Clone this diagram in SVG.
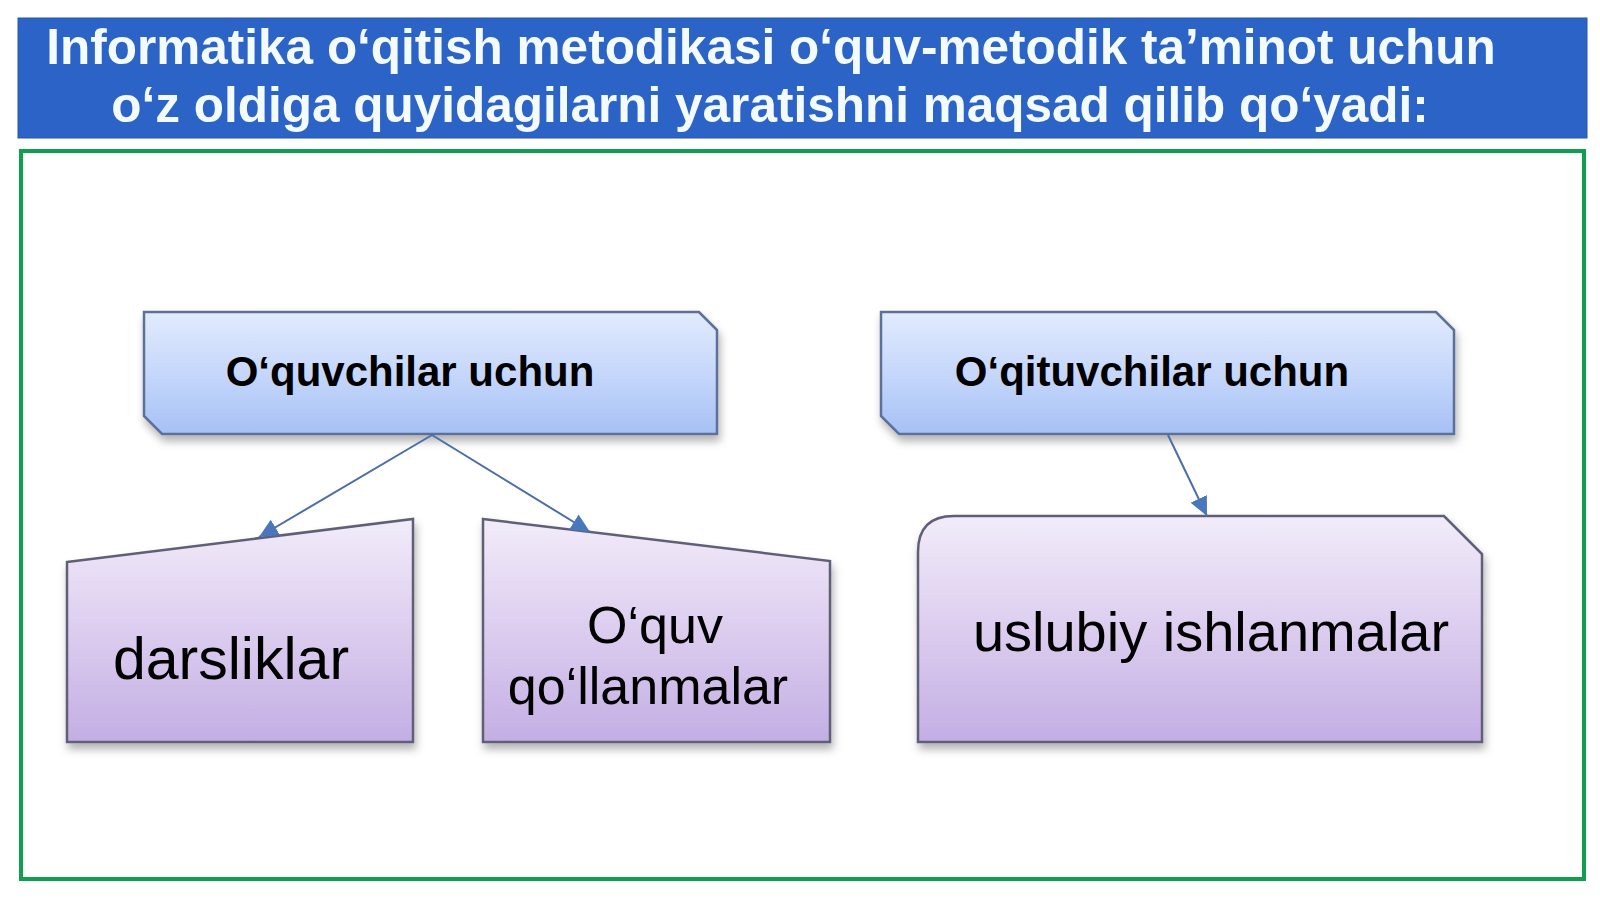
<svg xmlns="http://www.w3.org/2000/svg" width="1600" height="900" viewBox="0 0 1600 900">
<defs>
<style>
.hdr{font-family:"Liberation Sans",Arial,sans-serif;font-weight:bold;font-size:49.5px;fill:#f4fbff;text-anchor:middle}
.top{font-family:"Liberation Sans",Arial,sans-serif;font-weight:bold;font-size:42px;fill:#000;text-anchor:middle}
.sub{font-family:"Liberation Sans",Arial,sans-serif;fill:#000;text-anchor:middle}
.blue{fill:url(#gBlue);stroke:#5b6f98;stroke-width:2.5;filter:url(#sh)}
.lav{fill:url(#gLav);stroke:#5f5f78;stroke-width:2.5;filter:url(#sh)}
.con{stroke:#4a6ea6;stroke-width:2;fill:none;marker-end:url(#arr)}
</style>
<linearGradient id="gBlue" x1="0" y1="0" x2="0" y2="1">
<stop offset="0" stop-color="#e2ebfd"/>
<stop offset="0.5" stop-color="#c6d7fb"/>
<stop offset="1" stop-color="#a6c1f5"/>
</linearGradient>
<linearGradient id="gLav" x1="0" y1="0" x2="0" y2="1">
<stop offset="0" stop-color="#f2ecf9"/>
<stop offset="0.5" stop-color="#dccdef"/>
<stop offset="1" stop-color="#c3aee4"/>
</linearGradient>
<filter id="sh" x="-10%" y="-10%" width="120%" height="130%">
<feDropShadow dx="2" dy="6" stdDeviation="4" flood-color="#000" flood-opacity="0.3"/>
</filter>
<marker id="arr" markerUnits="userSpaceOnUse" markerWidth="20" markerHeight="18" refX="19" refY="9" orient="auto">
<path d="M0,0 L19,9 L0,18 z" fill="#4a76bb"/>
</marker>
</defs>
<rect width="1600" height="900" fill="#ffffff"/>
<g id="header">
<rect x="18" y="18" width="1569" height="120" fill="#2c63c6" stroke="#2456b0" stroke-width="1"/>
<text class="hdr" x="771" y="64">Informatika o‘qitish metodikasi o‘quv-metodik ta’minot uchun</text>
<text class="hdr" x="770" y="122">o‘z oldiga quyidagilarni yaratishni maqsad qilib qo‘yadi:</text>
</g>
<g id="frame">
<rect x="21" y="151" width="1563" height="728" fill="none" stroke="#0ea04e" stroke-width="4"/>
</g>
<g id="node-oquvchilar">
<path class="blue" d="M144,312 H699 L717,330 V434 H162 L144,416 Z"/>
<text class="top" x="410" y="386">O‘quvchilar uchun</text>
</g>
<g id="node-oqituvchilar">
<path class="blue" d="M881,312 H1436 L1454,330 V434 H899 L881,416 Z"/>
<text class="top" x="1152" y="386">O‘qituvchilar uchun</text>
</g>
<g id="node-darsliklar">
<path class="lav" d="M67,562 L413,519 V742 H67 Z"/>
<text class="sub" x="231" y="679" font-size="59">darsliklar</text>
</g>
<g id="node-oquv-qollanmalar">
<path class="lav" d="M483,519 L830,561 V742 H483 Z"/>
<text class="sub" x="655" y="643" font-size="52">O‘quv</text>
<text class="sub" x="648" y="704" font-size="52">qo‘llanmalar</text>
</g>
<g id="node-uslubiy">
<path class="lav" d="M954,516 H1444 L1482,554 V742 H918 V552 Q918,516 954,516 Z"/>
<text class="sub" x="1211" y="651" font-size="56">uslubiy ishlanmalar</text>
</g>
<g id="connectors">
<line class="con" x1="432" y1="435" x2="259" y2="537"/>
<line class="con" x1="432" y1="435" x2="590" y2="532"/>
<line class="con" x1="1168" y1="435" x2="1207" y2="516"/>
</g>
</svg>
